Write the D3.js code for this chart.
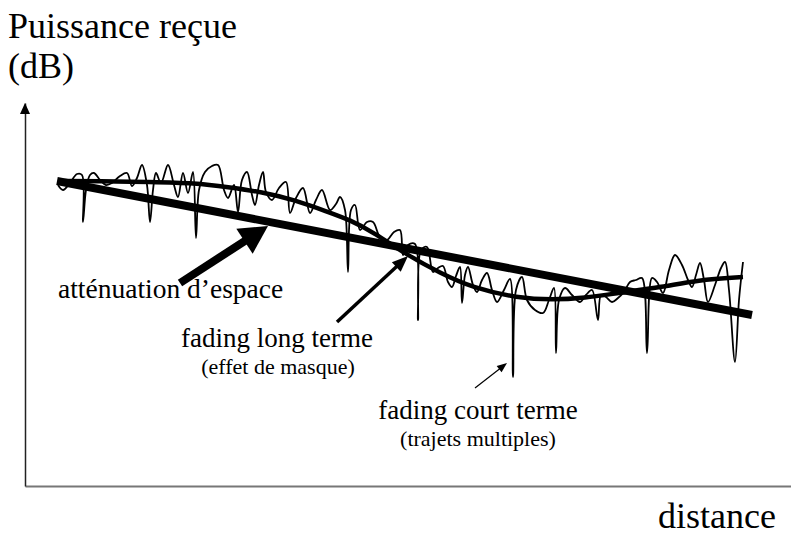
<!DOCTYPE html>
<html>
<head>
<meta charset="utf-8">
<script src="https://cdn.jsdelivr.net/npm/d3@7"></script>
<style>
body{margin:0;background:#fff;}
</style>
</head>
<body>
<div id="chart"></div>
<script>
var W = 791, H = 536;
var serif = "'Times New Roman', 'Liberation Serif', Tinos, serif";

// distance (arbitrary units) vs received power (arbitrary dB units)
var attenuation = [[32,305],[727,171]];

var longTerm = [[33,305],[75,305],[125,304],[170,303],[203,299],[237,294],[270,286],[303,274],
	[325,266],[348,254],[382,231],[415,213],[448,198],[493,188],[527,186],[560,188],[593,193],
	[638,199],[672,206],[718,209]];

var shortTerm = [[33,301],[38,296],[45,303],[52,312],[57,311],[58,264],[61,296],[65,311],[69,313],
	[75,306],[81,301],[87,303],[95,310],[102,313],[107,300],[112,308],[117,321],[122,301],[125,264],
	[128,296],[131,313],[136,303],[143,321],[149,301],[153,289],[158,313],[163,293],[168,314],
	[171,248],[174,296],[180,314],[187,320],[193,321],[199,296],[203,288],[209,301],[213,274],
	[217,306],[222,314],[227,291],[230,281],[234,301],[238,314],[241,294],[247,286],[254,298],
	[261,304],[265,273],[271,288],[278,298],[285,273],[291,286],[297,296],[305,276],[311,282],
	[315,289],[320,276],[323,214],[326,276],[330,281],[335,256],[342,264],[348,264],[355,249],
	[362,246],[369,254],[375,256],[378,231],[383,241],[390,242],[393,166],[396,236],[402,239],
	[408,214],[413,218],[418,220],[423,204],[427,199],[431,210],[435,219],[437,183],[440,211],
	[443,219],[448,201],[452,194],[457,206],[462,213],[467,196],[472,184],[479,196],[485,207],
	[488,109],[491,196],[497,209],[502,186],[510,176],[518,173],[524,186],[529,198],[531,133],
	[534,186],[540,198],[547,191],[555,184],[561,191],[567,196],[573,166],[576,191],[581,189],
	[587,184],[593,188],[599,194],[605,204],[611,206],[617,208],[622,133],[627,208],[632,204],
	[638,193],[644,216],[650,231],[657,221],[663,206],[667,199],[671,211],[675,223],[679,206],
	[683,184],[690,201],[696,218],[700,224],[704,196],[710,124],[714,186],[718,224]];

// annotation arrows: [tail, tip]
var arrowThick = [[155,203],[243,260]];
var arrowMedium = [[312,164],[383,230]];
var arrowThin = [[450,98],[482,123]];

var yLabel = ["Puissance reçue", "(dB)"];
var xLabel = "distance";
var notes = ["atténuation d\u2019espace", "fading long terme", "(effet de masque)",
	"fading court terme", "(trajets multiples)"];

var x = d3.scaleLinear().domain([0,766]).range([25,791]);
var y = d3.scaleLinear().domain([0,383]).range([486,103]);

var svg = d3.select("#chart").append("svg")
	.attr("width", W)
	.attr("height", H)
	.attr("font-family", serif);

// axes: bare lines, no ticks
svg.append("g")
	.attr("transform","translate(0,"+y(0)+")")
	.call(d3.axisBottom(x).tickValues([]).tickSizeOuter(0))
	.select(".domain")
	.attr("stroke","#777")
	.attr("stroke-width",2.2);

svg.append("g")
	.attr("transform","translate("+x(0)+",0)")
	.call(d3.axisLeft(y).tickValues([]).tickSizeOuter(0))
	.select(".domain")
	.attr("stroke","#222")
	.attr("stroke-width",1.5);

var yTop = y.range()[1];
svg.append("path")
	.attr("d","M"+x(0)+","+yTop+"L"+(x(0)-5)+","+(yTop+11)+"L"+(x(0)+5)+","+(yTop+11)+"Z")
	.attr("fill","#000");

function lineGen(curve){
	return d3.line().x(function(d){return x(d[0])}).y(function(d){return y(d[1])}).curve(curve);
}

// fast fading (thin)
svg.append("path")
	.datum(shortTerm)
	.attr("d", lineGen(d3.curveCatmullRom.alpha(0.5)))
	.attr("fill","none")
	.attr("stroke","#000")
	.attr("stroke-width",1.8);

// slow fading
svg.append("path")
	.datum(longTerm)
	.attr("d", lineGen(d3.curveBasis))
	.attr("fill","none")
	.attr("stroke","#000")
	.attr("stroke-width",4.5);

// path loss
svg.append("path")
	.datum(attenuation)
	.attr("d", lineGen(d3.curveLinear))
	.attr("fill","none")
	.attr("stroke","#000")
	.attr("stroke-width",8);

function arrow(a, width, headLen, headW){
	var x1 = x(a[0][0]), y1 = y(a[0][1]), x2 = x(a[1][0]), y2 = y(a[1][1]);
	var dx = x2-x1, dy = y2-y1, L = Math.sqrt(dx*dx+dy*dy);
	var ux = dx/L, uy = dy/L;
	var bx = x2-ux*headLen, by = y2-uy*headLen;
	svg.append("line")
		.attr("x1",x1).attr("y1",y1)
		.attr("x2",bx+ux*2).attr("y2",by+uy*2)
		.attr("stroke","#000")
		.attr("stroke-width",width);
	svg.append("path")
		.attr("d","M"+x2+","+y2+"L"+(bx-uy*headW/2)+","+(by+ux*headW/2)+"L"+(bx+uy*headW/2)+","+(by-ux*headW/2)+"Z")
		.attr("fill","#000");
}
arrow(arrowThick, 8, 28, 30);
arrow(arrowMedium, 3.5, 16, 13);
arrow(arrowThin, 1.2, 10, 8);

// labels
svg.append("text").attr("x",8).attr("y",38).style("font-size","36px").text(yLabel[0]);
svg.append("text").attr("x",8).attr("y",78).style("font-size","36px").text(yLabel[1]);
svg.append("text").attr("x",776).attr("y",528).attr("text-anchor","end").style("font-size","36px").text(xLabel);

svg.append("text").attr("x",58).attr("y",298).style("font-size","27.5px").text(notes[0]);
svg.append("text").attr("x",277).attr("y",347).attr("text-anchor","middle").style("font-size","27px").text(notes[1]);
svg.append("text").attr("x",278).attr("y",374).attr("text-anchor","middle").style("font-size","22px").text(notes[2]);
svg.append("text").attr("x",478).attr("y",419).attr("text-anchor","middle").style("font-size","27px").text(notes[3]);
svg.append("text").attr("x",478).attr("y",446).attr("text-anchor","middle").style("font-size","22px").text(notes[4]);
</script>
</body>
</html>
